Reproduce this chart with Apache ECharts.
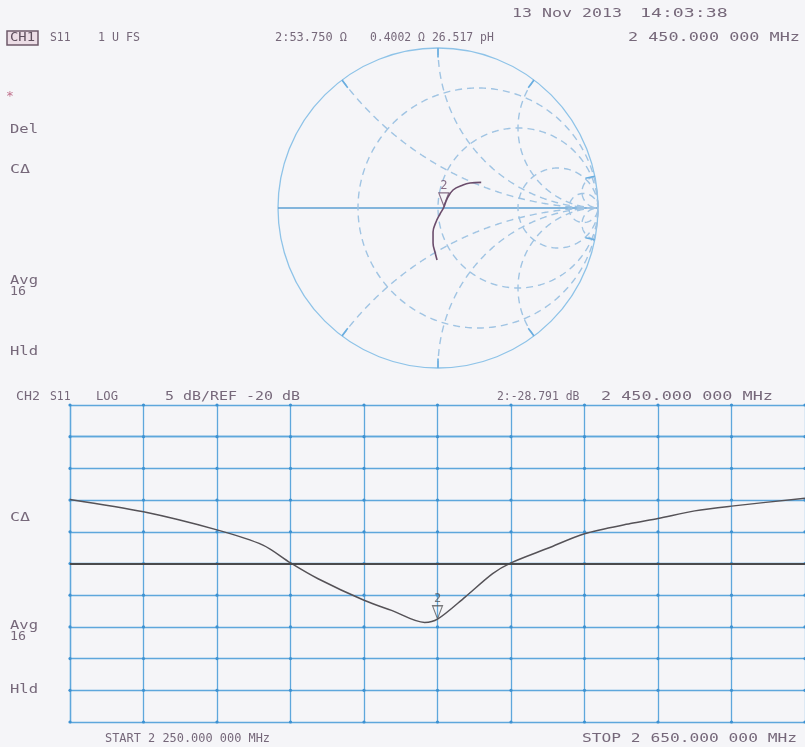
<!DOCTYPE html>
<html>
<head>
<meta charset="utf-8">
<script src="https://cdn.jsdelivr.net/npm/echarts@6/dist/echarts.min.js"></script>
<style>
  html, body { margin: 0; padding: 0; background: #f5f5f8; }
  #chart { width: 805px; height: 747px; }
</style>
</head>
<body>
<div id="chart"></div>
<script>
// ---- Channel 2: S11 log magnitude sweep ----
const START_MHZ = 2250;
const STOP_MHZ = 2650;
const REF_DB = -20;
const DB_PER_DIV = 5;
const freqMHz = [2250, 2290, 2330, 2355, 2370, 2385, 2410, 2425, 2443, 2450,
                 2465, 2480, 2490, 2510, 2530, 2555, 2570, 2590, 2610, 2650];
const s11dB   = [-9.9, -11.85, -14.7, -17.1, -19.9, -22.4, -25.8, -27.4, -29.3, -28.791,
                 -25.3, -21.6, -19.9, -17.6, -15.3, -13.7, -12.9, -11.7, -10.95, -9.7];

// ---- Marker 2 ----
const MARKER_MHZ = 2450;
const MARKER_DB = -28.791;
const MARKER_R_OHM = 53.750;
const MARKER_X_OHM = 0.4002;
const Z0 = 50;

// ---- Channel 1: S11 on the Smith chart (reflection coefficient, re / im) ----
const smithRe = [-0.006, -0.019, -0.031, -0.031, -0.0125, 0.0125, 0.036, 0.056, 0.094, 0.156, 0.2, 0.27];
const smithIm = [-0.325, -0.275, -0.219, -0.15, -0.0875, -0.0375, 0.0037, 0.056, 0.1125, 0.144, 0.156, 0.16];

// ---- Smith chart graticule (normalised resistance / reactance) ----
const gratR = [1 / 3, 1, 3, 10];
const gratX = [0.5, 1, 2, 10, -0.5, -1, -2, -10];

const TEXT = '#76687a';
const GRID_BLUE = '#5ea7dc';
const MONO = '"DejaVu Sans Mono"';

// normalised impedance -> reflection coefficient
function gamma(r, x) {
  const d = (r + 1) * (r + 1) + x * x;
  return [(r * r - 1 + x * x) / d, (2 * x) / d];
}

const span = STOP_MHZ - START_MHZ;
const yMin = REF_DB - 5 * DB_PER_DIV;
const yMax = REF_DB + 5 * DB_PER_DIV;
const traceData = freqMHz.map((f, i) => [f - START_MHZ, s11dB[i]]);
const smithData = smithRe.map((re, i) => [re, smithIm[i]]);
const mG = gamma(MARKER_R_OHM / Z0, MARKER_X_OHM / Z0);

// graticule items: [kind, value]; kind 0 = constant r circle, 1 = constant x arc, 2 = rim tick of x arc
const gratData = [];
gratR.forEach(r => gratData.push([0, r]));
gratX.forEach(x => gratData.push([1, x]));
gratX.forEach(x => gratData.push([2, x]));

function renderGrat(params, api) {
  const kind = api.value(0), v = api.value(1);
  const pts = [];
  if (kind === 0) {
    for (let i = 1; i < 400; i++) {
      const phi = -Math.PI / 2 + Math.PI * i / 400;
      pts.push(api.coord(gamma(v, Math.tan(phi))));
    }
    pts.push(pts[0]);
  } else if (kind === 1) {
    for (let i = 0; i < 300; i++) {
      const psi = (Math.PI / 2) * i / 300;
      pts.push(api.coord(gamma(Math.tan(psi), v)));
    }
  } else {
    const g = gamma(0, v);
    pts.push(api.coord(g));
    pts.push(api.coord([g[0] * 0.94, g[1] * 0.94]));
    return {
      type: 'polyline', shape: { points: pts },
      style: { stroke: '#6aaee0', lineWidth: 1.6, fill: null }
    };
  }
  return {
    type: 'polyline', shape: { points: pts },
    style: { stroke: '#a0c4e3', lineWidth: 1.4, lineDash: [7, 5], fill: null }
  };
}

function renderRim(params, api) {
  const c = api.coord([0, 0]);
  const r = api.size([1, 1])[0];
  const left = api.coord([-1, 0]), right = api.coord([1, 0]);
  return {
    type: 'group',
    children: [
      { type: 'circle', shape: { cx: c[0], cy: c[1], r: r },
        style: { stroke: '#8ec3e8', lineWidth: 1.3, fill: null } },
      { type: 'line', shape: { x1: left[0], y1: left[1], x2: right[0], y2: right[1] },
        style: { stroke: '#5d9fd3', lineWidth: 1.5 } }
    ]
  };
}

// darker ink where the log-magnitude graticule lines cross
function renderCross(params, api) {
  const kids = [];
  for (let i = 0; i <= 10; i++) {
    for (let j = 0; j <= 10; j++) {
      const p = api.coord([span * i / 10, yMin + (yMax - yMin) * j / 10]);
      kids.push({ type: 'circle', shape: { cx: p[0], cy: p[1], r: 1.6 },
                  style: { fill: '#3d92d2' } });
    }
  }
  return { type: 'group', children: kids };
}

// text helpers: monospaced labels stretched to the instrument's character pitch
const measureCtx = document.createElement('canvas').getContext('2d');
function label(str, x, y, w, size, color) {
  const font = (size || 12) + 'px ' + MONO;
  measureCtx.font = font;
  const natural = measureCtx.measureText(str).width;
  const sx = w ? Math.min(1.4, Math.max(0.95, w / natural)) : 1;
  return {
    type: 'text', x: x, y: y, scaleX: sx, silent: true,
    style: { text: str, font: font, fill: color || TEXT, textAlign: 'left',
             verticalAlign: 'middle', textVerticalAlign: 'middle' }
  };
}

const texts = [
  label('13 Nov 2013', 512, 14, 110, 13),
  label('14:03:38', 640, 14, 97, 13),
  { type: 'rect', shape: { x: 7, y: 31, width: 31, height: 14 }, silent: true,
    style: { fill: '#ecdde6', stroke: '#6e5a6a', lineWidth: 1.5 } },
  label('CH1', 10, 38, 25, 12, '#5e4e5c'),
  label('S11', 50, 38, 18, 12),
  label('1 U FS', 98, 38, 42, 12),
  label('2:53.750 \u03a9', 275, 38, 72, 12),
  label('0.4002 \u03a9', 370, 38, 52, 12),
  label('26.517 pH', 432, 38, 58, 12),
  label('2 450.000 000 MHz', 628, 38, 175, 12),
  label('*', 6, 97, 0, 13, '#c0708c'),
  label('Del', 10, 130, 28, 12),
  label('C\u0394', 10, 170, 20, 12),
  label('Avg', 10, 281, 28, 12),
  label('16', 10, 292, 16, 12),
  label('Hld', 10, 352, 28, 12),
  label('CH2', 16, 397, 24, 12),
  label('S11', 50, 397, 16, 12),
  label('LOG', 96, 397, 22, 12),
  label('5 dB/REF -20 dB', 165, 397, 135, 12),
  label('2:-28.791 dB', 497, 397, 81, 12),
  label('2 450.000 000 MHz', 601, 397, 202, 12),
  label('C\u0394', 10, 518, 20, 12),
  label('Avg', 10, 626, 28, 12),
  label('16', 10, 637, 16, 12),
  label('Hld', 10, 690, 28, 12),
  label('START 2 250.000 000 MHz', 105, 739, 165, 12),
  label('STOP 2 650.000 000 MHz', 582, 739, 215, 12)
];

const markerSymbol = 'path://M0 0 L10 0 L5 12 Z';
const gridLine = { color: GRID_BLUE, width: 1.3 };

const chart = echarts.init(document.getElementById('chart'), null, { renderer: 'canvas' });
chart.setOption({
  backgroundColor: '#f5f5f8',
  animation: false,
  grid: [
    { left: 70, right: -1, top: 405, height: 317, show: false },
    { left: 278, top: 48, width: 320, height: 320, show: false }
  ],
  xAxis: [
    { gridIndex: 0, type: 'value', min: 0, max: span, interval: span / 10,
      axisLine: { show: true, lineStyle: gridLine }, axisTick: { show: false },
      axisLabel: { show: false }, splitLine: { show: true, lineStyle: gridLine } },
    { gridIndex: 1, type: 'value', min: -1, max: 1, show: false }
  ],
  yAxis: [
    { gridIndex: 0, type: 'value', min: yMin, max: yMax, interval: DB_PER_DIV,
      axisLine: { show: true, lineStyle: gridLine }, axisTick: { show: false },
      axisLabel: { show: false }, splitLine: { show: true, lineStyle: gridLine } },
    { gridIndex: 1, type: 'value', min: -1, max: 1, show: false }
  ],
  graphic: texts,
  series: [
    {
      type: 'custom', xAxisIndex: 0, yAxisIndex: 0, data: [[0, yMin]],
      renderItem: renderCross, silent: true, z: 1
    },
    {
      type: 'line', xAxisIndex: 0, yAxisIndex: 0, data: traceData,
      showSymbol: false, smooth: 0.3, silent: true,
      lineStyle: { color: '#555257', width: 1.5 },
      markLine: {
        silent: true, symbol: ['none', 'none'], label: { show: false },
        lineStyle: { color: '#4a4a4c', width: 2, type: 'solid' },
        data: [{ yAxis: REF_DB }]
      }
    },
    {
      type: 'scatter', xAxisIndex: 0, yAxisIndex: 0,
      data: [[MARKER_MHZ - START_MHZ, MARKER_DB]],
      symbol: markerSymbol, symbolSize: [10, 13], symbolOffset: [0, -7], silent: true,
      itemStyle: { color: 'rgba(0,0,0,0)', borderColor: '#5a5a5c', borderWidth: 1.2 },
      label: { show: true, formatter: '2', position: 'top', distance: 0,
               color: '#5a5a5c', fontSize: 12, fontFamily: MONO }
    },
    {
      type: 'custom', xAxisIndex: 1, yAxisIndex: 1, data: [[0, 0]],
      renderItem: renderRim, silent: true
    },
    {
      type: 'custom', xAxisIndex: 1, yAxisIndex: 1, data: gratData,
      renderItem: renderGrat, silent: true
    },
    {
      type: 'line', xAxisIndex: 1, yAxisIndex: 1, data: smithData,
      showSymbol: false, smooth: 0.4, silent: true,
      lineStyle: { color: '#6b4d6c', width: 1.6 }
    },
    {
      type: 'scatter', xAxisIndex: 1, yAxisIndex: 1, data: [mG],
      symbol: markerSymbol, symbolSize: [10, 13], symbolOffset: [0, -8], silent: true,
      itemStyle: { color: 'rgba(0,0,0,0)', borderColor: '#6b4d6c', borderWidth: 1.2 },
      label: { show: true, formatter: '2', position: 'top', distance: 0,
               color: '#6b4d6c', fontSize: 12, fontFamily: MONO }
    }
  ]
});
</script>
</body>
</html>
